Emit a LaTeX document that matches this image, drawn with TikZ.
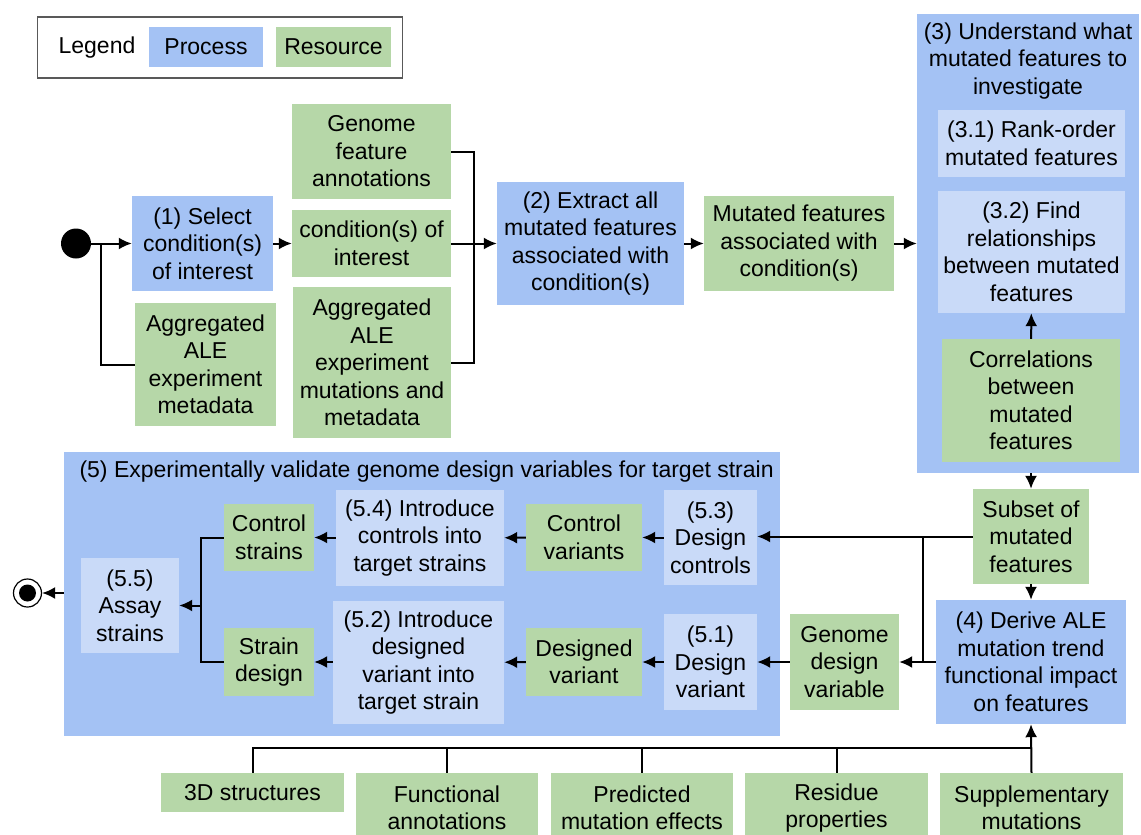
\documentclass[tikz,border=0pt]{standalone}
\usepackage{fontspec}
\setmainfont{Liberation Sans}
\usepackage{tikz}
\usetikzlibrary{positioning,arrows.meta}

\definecolor{procblue}{HTML}{A4C2F4}
\definecolor{resgreen}{HTML}{B6D7A8}
\definecolor{subblue}{HTML}{C9DAF8}

\begin{document}
\begin{tikzpicture}[x=1pt, y=-1pt,
    font=\fontsize{23}{27.5}\selectfont,
    proc/.style={fill=procblue, align=center, inner sep=0pt},
    res/.style={fill=resgreen, align=center, inner sep=0pt},
    subproc/.style={fill=subblue, align=center, inner sep=0pt},
    wire/.style={line width=2pt},
    arr/.style={wire, -{Latex[length=13pt,width=12pt]}}]
    \useasboundingbox (0,0) rectangle (1141,835);

    % Legend
    \node[draw=black!65, line width=1.5pt, minimum width=365, minimum height=61] (legend) at (220,47.5) {};
    \node (legendtxt) at (97,48) {Legend};
    \node[proc, minimum width=114, minimum height=40] (legproc) at (206,47) {Process};
    \node[res, minimum width=115, minimum height=40] (legres) at (333.5,47) {Resource};

    % Big boxes
    \node[proc, minimum width=222, minimum height=459] (understand) at (1028,243.5) {};
    \node[align=center] (undtitle) at (1028,61) {(3) Understand what\\mutated features to\\investigate};
    \node[proc, minimum width=716, minimum height=284] (validate) at (422,594) {};
    \node[anchor=west] (valtitle) at (76,472) {(5) Experimentally validate genome design variables for target strain};

    % Nodes
    \node[circle, fill=black, minimum size=30, inner sep=0pt] (start) at (76,243.5) {};
    \node[proc, minimum width=141, minimum height=95] (select) at (202.5,243.5) {(1) Select\\condition(s)\\of interest};
    \node[res, minimum width=141, minimum height=123] (alemeta) at (205.5,364.5) {Aggregated\\ALE\\experiment\\metadata};
    \node[res, minimum width=159, minimum height=95] (featann) at (371.5,151.5) {Genome\\feature\\annotations};
    \node[res, minimum width=159, minimum height=67] (condint) at (371.5,243.5) {condition(s) of\\interest};
    \node[res, minimum width=158, minimum height=151] (alemut) at (372,362.5) {Aggregated\\ALE\\experiment\\mutations and\\metadata};
    \node[proc, minimum width=187, minimum height=123] (extract) at (590.5,243.5) {(2) Extract all\\mutated features\\associated with\\condition(s)};
    \node[res, minimum width=190, minimum height=95] (mutfeat) at (799,243.5) {Mutated features\\associated with\\condition(s)};

    \node[subproc, minimum width=187, minimum height=67] (rankorder) at (1031.5,143.5) {(3.1) Rank-order\\mutated features};
    \node[subproc, minimum width=187, minimum height=122] (findrel) at (1031.5,252) {(3.2) Find\\relationships\\between mutated\\features};
    \node[res, minimum width=178, minimum height=123] (correl) at (1031,400.5) {Correlations\\between\\mutated\\features};
    \node[res, minimum width=116, minimum height=95] (subset) at (1031,536.5) {Subset of\\mutated\\features};
    \node[proc, minimum width=190, minimum height=124] (derive) at (1031,662) {(4) Derive ALE\\mutation trend\\functional impact\\on features};
    \node[res, minimum width=109, minimum height=96] (designvar) at (844.5,662) {Genome\\design\\variable};

    \node[subproc, minimum width=93, minimum height=95] (descontrols) at (710.5,537.5) {(5.3)\\Design\\controls};
    \node[subproc, minimum width=93, minimum height=96] (desvariant) at (710.5,662) {(5.1)\\Design\\variant};
    \node[res, minimum width=116, minimum height=67] (ctrlvar) at (584,537.5) {Control\\variants};
    \node[res, minimum width=116, minimum height=68] (designed) at (584,662) {Designed\\variant};
    \node[subproc, minimum width=168, minimum height=96] (introctrl) at (420,538) {(5.4) Introduce\\controls into\\target strains};
    \node[subproc, minimum width=171, minimum height=123] (introvar) at (418.5,662.5) {(5.2) Introduce\\designed\\variant into\\target strain};
    \node[res, minimum width=90, minimum height=67] (ctrlstrain) at (269,537.5) {Control\\strains};
    \node[res, minimum width=90, minimum height=68] (straindes) at (269,662) {Strain\\design};
    \node[subproc, minimum width=98, minimum height=95] (assay) at (130,605.5) {(5.5)\\Assay\\strains};
    \node[circle, draw=black, line width=1.2pt, fill=white, minimum size=28, inner sep=0pt] (finish) at (27.5,593) {};
    \node[circle, fill=black, minimum size=17, inner sep=0pt] at (finish) {};

    \node[res, minimum width=183, minimum height=39] (struct) at (252.5,792.5) {3D structures};
    \node[res, minimum width=182, minimum height=70] (funcann) at (447,808) {Functional\\annotations};
    \node[res, minimum width=182, minimum height=70] (predeff) at (642,808) {Predicted\\mutation effects};
    \node[res, minimum width=183, minimum height=70] (residue) at (836.5,808) {Residue\\properties};
    \node[res, minimum width=183, minimum height=70] (supmut) at (1031.5,808) {Supplementary\\mutations};

    % Joints
    \coordinate (split) at (101,243.5);
    \coordinate (merge) at (474,243.5);
    \coordinate (jtop) at (923,536.5);
    \coordinate (jbot) at (923,662);
    \coordinate (assayin) at (201,605.5);
    \coordinate (bus) at (1031.5,748);

    % Arrows
    \draw[arr] (start) -- (select);
    \draw[wire] (split) |- (alemeta.west);
    \draw[arr] (select) -- (condint);
    \draw[wire] (featann.east) -| (merge) |- (alemut.east);
    \draw[arr] (condint) -- (extract);
    \draw[arr] (extract) -- (mutfeat);
    \draw[arr] (mutfeat) -- (understand);
    \draw[arr] (correl) -- (findrel);
    \draw[arr] (subset.north |- understand.south) -- (subset.north);
    \draw[arr] (subset) -- (derive);
    \draw[arr] (subset.west) -- (subset.west -| descontrols.east);
    \draw[arr] (derive) -- (designvar);
    \draw[wire] (jtop) -- (jbot);
    \draw[arr] (designvar) -- (desvariant);
    \draw[arr] (desvariant) -- (designed);
    \draw[arr] (designed) -- (introvar);
    \draw[arr] (introvar.west |- straindes.east) -- (straindes.east);
    \draw[arr] (descontrols) -- (ctrlvar);
    \draw[arr] (ctrlvar) -- (introctrl);
    \draw[arr] (introctrl.west |- ctrlstrain.east) -- (ctrlstrain.east);
    \draw[wire] (ctrlstrain.west) -| (assayin) |- (straindes.west);
    \draw[arr] (assayin) -- (assay);
    \draw[arr] (validate.west |- finish) -- (finish);

    \draw[wire] (struct.north) |- (bus);
    \draw[wire] (funcann.north) -- (funcann.north |- bus);
    \draw[wire] (predeff.north) -- (predeff.north |- bus);
    \draw[wire] (residue.north) -- (residue.north |- bus);
    \draw[arr] (supmut.north) -- (derive.south);
\end{tikzpicture}
\end{document}
